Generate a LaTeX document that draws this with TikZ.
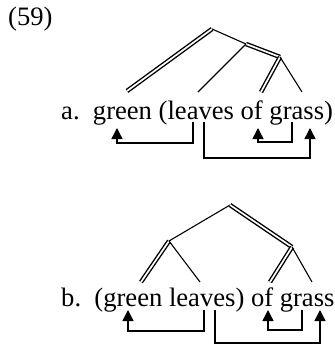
\documentclass[tikz,border=0pt]{standalone}
\usepackage{fontspec}
\setmainfont{Liberation Serif}
\usetikzlibrary{arrows.meta}
\tikzset{
  branch/.style={line width=1.1pt},
  dbranch/.style={line width=1.4pt, double, double distance=1.7pt},
  dep/.style={line width=1.4pt, -{Triangle[width=11pt,length=11pt]}},
  words/.style={anchor=base west, inner sep=0pt, font=\fontsize{26.6}{30}\selectfont}
}
\begin{document}
\begin{tikzpicture}[x=1pt,y=-1pt]
\useasboundingbox (0,0) rectangle (335,346);
% label
\node[words] (num) at (8,25) {(59)};
% ---- (a)
\node[words] (la) at (61,119) {a.~~green (leaves of grass)};
\coordinate (aR) at (212,29);
\coordinate (aN1) at (246,44);
\coordinate (aN2) at (280,57);
\coordinate (aL1) at (127,91);
\coordinate (aL2) at (198,92);
\coordinate (aL3) at (261,92);
\coordinate (aL4) at (302,92);
\draw[dbranch] (aR) -- (aL1);
\draw[branch] (aR) -- (aN1);
\draw[dbranch] (aN1) -- (aN2);
\draw[branch] (aN1) -- (aL2);
\draw[dbranch] (aN2) -- (aL3);
\draw[branch] (aN2) -- (aL4);
% dependencies (a)
\coordinate (a1s) at (193,122); \coordinate (a1t) at (117,128);
\coordinate (a2s) at (204,122); \coordinate (a2t) at (310,128);
\coordinate (a3s) at (292,122); \coordinate (a3t) at (258,128);
\draw[dep] (a1s) -- (a1s |- 0,143) -- (a1t |- 0,143) -- (a1t);
\draw[dep] (a2s) -- (a2s |- 0,158) -- (a2t |- 0,158) -- (a2t);
\draw[dep] (a3s) -- (a3s |- 0,142) -- (a3t |- 0,142) -- (a3t);
% ---- (b)
\node[words] (lb) at (61,306) {b.~~(green leaves) of grass};
\coordinate (bR) at (230,205);
\coordinate (bN1) at (169,241);
\coordinate (bN2) at (292,247);
\coordinate (bL1) at (141,282);
\coordinate (bL2) at (200,282);
\coordinate (bL3) at (270,282);
\coordinate (bL4) at (312,282);
\draw[branch] (bR) -- (bN1);
\draw[dbranch] (bR) -- (bN2);
\draw[dbranch] (bN1) -- (bL1);
\draw[branch] (bN1) -- (bL2);
\draw[dbranch] (bN2) -- (bL3);
\draw[branch] (bN2) -- (bL4);
% dependencies (b)
\coordinate (b1s) at (204,310); \coordinate (b1t) at (128,310);
\coordinate (b2s) at (215,310); \coordinate (b2t) at (320,310);
\coordinate (b3s) at (302,310); \coordinate (b3t) at (268,310);
\draw[dep] (b1s) -- (b1s |- 0,331) -- (b1t |- 0,331) -- (b1t);
\draw[dep] (b2s) -- (b2s |- 0,343) -- (b2t |- 0,343) -- (b2t);
\draw[dep] (b3s) -- (b3s |- 0,330) -- (b3t |- 0,330) -- (b3t);
\end{tikzpicture}
\end{document}
